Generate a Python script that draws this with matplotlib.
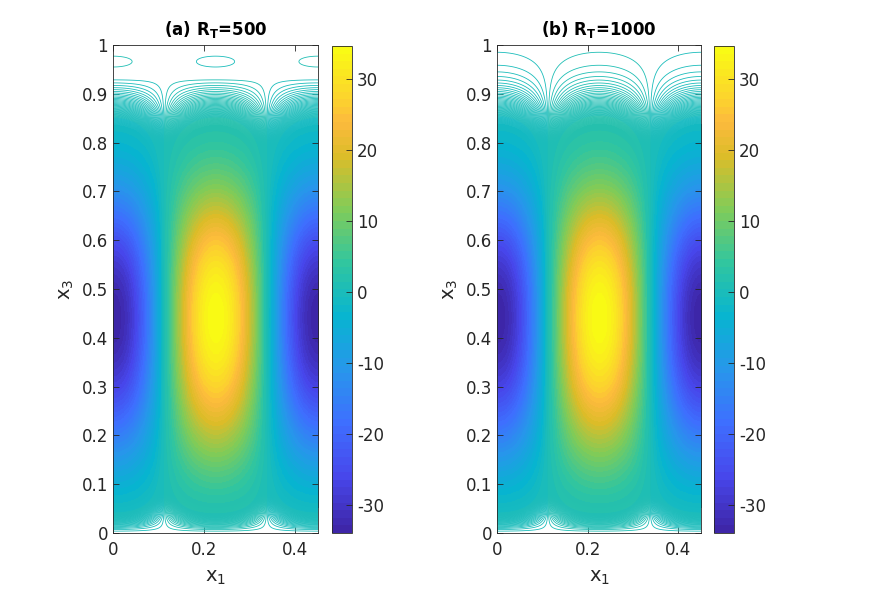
import numpy as np
import matplotlib
matplotlib.use('Agg')
import matplotlib.pyplot as plt
from matplotlib.colors import LinearSegmentedColormap, Normalize
from matplotlib.cm import ScalarMappable

plt.rcParams['font.family'] = ['DejaVu Sans']
plt.rcParams['mathtext.fontset'] = 'dejavusans'
plt.rcParams['axes.unicode_minus'] = False

# panels
titles = [r'(a) $\mathbf{R_T}$=500', r'(b) $\mathbf{R_T}$=1000']

# field: range of the colour bar and shape of the cells
f_max = 34.65
f_min = -33.9
cell_width = 0.45      # x1 period (one full cell)
peak_x3 = 0.44         # height of the extremes
cell_height = 0.88     # lower half ~ sin^q over this height
low_power = 1.8
up_w2 = 0.2895         # upper half: exp(-(d/w2)^2 - (d/w4)^4)
up_w4 = 0.381
lid_zero = [0.933, None]    # (a) changes sign just under the lid
lid_scale = [0.0323, None]
cap_center = [0.966, None]  # small counter cell under the lid in (a)
cap_width = [0.026, None]
cap_depth = [0.6, 0.0]      # in units of one contour step

xticks = [0, 0.2, 0.4]
yticks = [0, 0.1, 0.2, 0.3, 0.4, 0.5, 0.6, 0.7, 0.8, 0.9, 1]
cticks = [-30, -20, -10, 0, 10, 20, 30]

# parula, sampled
parula_pos = [0, 1/9, 2/9, 3/9, 4/9, 5/9, 6/9, 7/9, 0.85, 8/9, 1]
parula_rgb = [(0.2422, 0.1504, 0.6603), (0.2803, 0.2782, 0.9221),
              (0.2440, 0.4358, 0.9988), (0.1540, 0.5902, 0.9218),
              (0.0297, 0.7082, 0.8163), (0.1938, 0.7758, 0.6251),
              (0.5044, 0.7993, 0.3480), (0.8634, 0.7406, 0.1596),
              (0.9900, 0.7300, 0.2400), (0.9892, 0.8136, 0.1885),
              (0.9769, 0.9839, 0.0805)]
cmap = LinearSegmentedColormap.from_list('parula', list(zip(parula_pos, parula_rgb)), N=64)
norm = Normalize(f_min, f_max)

mid = (f_max + f_min) / 2
amp = (f_max - f_min) / 2
dz = 0.03      # contour step
thr = 2.0      # below this the picture shows single contour lines


def profile(z, i):
    lower = np.abs(np.sin(np.pi * z / cell_height)) ** low_power
    d = np.abs(z - peak_x3)
    upper = np.exp(-(d / up_w2) ** 2 - (d / up_w4) ** 4)
    g = np.where(z < peak_x3, lower, upper)
    if lid_zero[i] is not None:
        g = g * np.clip(1 - np.exp((z - lid_zero[i]) / lid_scale[i]), 0, None)
        g = g - cap_depth[i] * dz / amp * np.exp(-((z - cap_center[i]) / cap_width[i]) ** 2)
    return g


x1 = np.linspace(0, cell_width, 451)
x3 = np.linspace(0, 1, 1001)
X1, X3 = np.meshgrid(x1, x3)

fig = plt.figure(figsize=(8.72, 5.99), dpi=100)
ax_pos = [[0.1296, 0.1102, 0.2351, 0.8147], [0.5700, 0.1102, 0.2340, 0.8147]]
cb_pos = [[0.3807, 0.1102, 0.0229, 0.8130], [0.8188, 0.1102, 0.0229, 0.8130]]
dark = '#262626'

k = int(np.ceil(thr / dz)) + 1
levels = mid + dz * (np.arange(-k, k) + 0.5)

for i in range(2):
    ax = fig.add_axes(ax_pos[i])
    F = mid - amp * np.cos(2 * np.pi * X1 / cell_width) * profile(X3, i)
    # solid fill where the lines are packed tighter than a pixel
    fill = np.ma.masked_where(np.abs(F - mid) < thr - 0.4, F)
    ax.imshow(fill, extent=(0, cell_width, 0, 1), origin='lower', aspect='auto',
              cmap=cmap, norm=norm, interpolation='nearest')
    ax.contour(X1, X3, F, levels=levels, cmap=cmap, norm=norm, linewidths=0.6)

    ax.set_xlim(0, cell_width)
    ax.set_ylim(0, 1)
    ax.set_xticks(xticks)
    ax.set_xticklabels([f'{t:g}' for t in xticks])
    ax.set_yticks(yticks)
    ax.set_yticklabels([f'{t:g}' for t in yticks])
    ax.tick_params(direction='in', top=True, right=True, length=4, width=0.6,
                   colors=dark, labelsize=12)
    ax.tick_params(axis='x', pad=6)
    for s in ax.spines.values():
        s.set_linewidth(0.6)
        s.set_color(dark)
    ax.set_title(titles[i], fontsize=12, fontweight='bold', pad=7)
    ax.set_xlabel(r'x$_1$', fontsize=14, color=dark, labelpad=6)
    ax.set_ylabel(r'x$_3$', fontsize=14, color=dark, labelpad=4)

    cax = fig.add_axes(cb_pos[i])
    cb = fig.colorbar(ScalarMappable(norm=norm, cmap=cmap), cax=cax, ticks=cticks)
    cb.outline.set_linewidth(0.6)
    cb.outline.set_edgecolor(dark)
    cax.tick_params(direction='in', length=4, width=0.6, colors=dark, labelsize=12)

fig.savefig('out.png', dpi=100)
